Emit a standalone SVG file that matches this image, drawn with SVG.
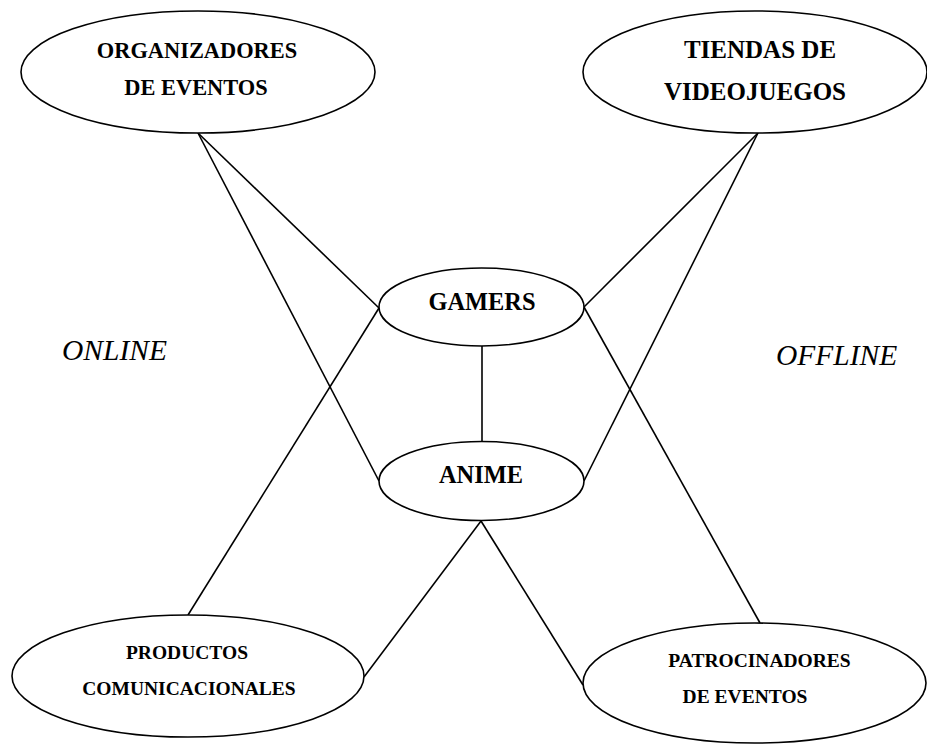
<svg xmlns="http://www.w3.org/2000/svg" width="927" height="745" viewBox="0 0 927 745">
<style>
.n{fill:#fff;stroke:#000;stroke-width:1.6}
.t{font-family:"Liberation Serif","Times New Roman",serif;font-weight:bold;text-anchor:middle;fill:#000}
.s{font-family:"Liberation Serif","Times New Roman",serif;font-style:italic;fill:#000;font-size:29.5px}
.c line{stroke:#000;stroke-width:1.6}
</style>
<rect width="927" height="745" fill="#fff"/>
<g class="c" id="connectors">
<line x1="198" y1="133" x2="379" y2="308"/>
<line x1="198" y1="133" x2="379" y2="481"/>
<line x1="758" y1="133" x2="584" y2="307"/>
<line x1="758" y1="133" x2="584" y2="481"/>
<line x1="188" y1="615" x2="379" y2="308"/>
<line x1="364" y1="677" x2="481" y2="521"/>
<line x1="481" y1="521" x2="583" y2="685"/>
<line x1="584" y1="307" x2="760" y2="623"/>
<line x1="482" y1="346" x2="482" y2="442"/>
</g>
<g id="organizadores">
<ellipse class="n" cx="198" cy="72" rx="177" ry="61"/>
<text class="t" x="197" y="58" font-size="22.4">ORGANIZADORES</text>
<text class="t" x="196" y="95" font-size="22.4">DE EVENTOS</text>
</g>
<g id="tiendas">
<ellipse class="n" cx="755" cy="72" rx="172" ry="61"/>
<text class="t" x="760" y="58" font-size="25">TIENDAS DE</text>
<text class="t" x="755" y="100" font-size="25">VIDEOJUEGOS</text>
</g>
<g id="gamers">
<ellipse class="n" cx="481.5" cy="307" rx="102.5" ry="39"/>
<text class="t" x="482" y="310" font-size="24.4">GAMERS</text>
</g>
<g id="anime">
<ellipse class="n" cx="481.5" cy="481" rx="102.5" ry="39.5"/>
<text class="t" x="481" y="483" font-size="24.4">ANIME</text>
</g>
<g id="productos">
<ellipse class="n" cx="188" cy="676" rx="176" ry="61"/>
<text class="t" x="187" y="659" font-size="19.5">PRODUCTOS</text>
<text class="t" x="189" y="695" font-size="19.5">COMUNICACIONALES</text>
</g>
<g id="patrocinadores">
<ellipse class="n" cx="754.5" cy="683" rx="171.5" ry="60"/>
<text class="t" x="759.5" y="667" font-size="19.5">PATROCINADORES</text>
<text class="t" x="745" y="703" font-size="19.5">DE EVENTOS</text>
</g>
<g id="online"><text class="s" x="62" y="360">ONLINE</text></g>
<g id="offline"><text class="s" x="776" y="365">OFFLINE</text></g>
</svg>
